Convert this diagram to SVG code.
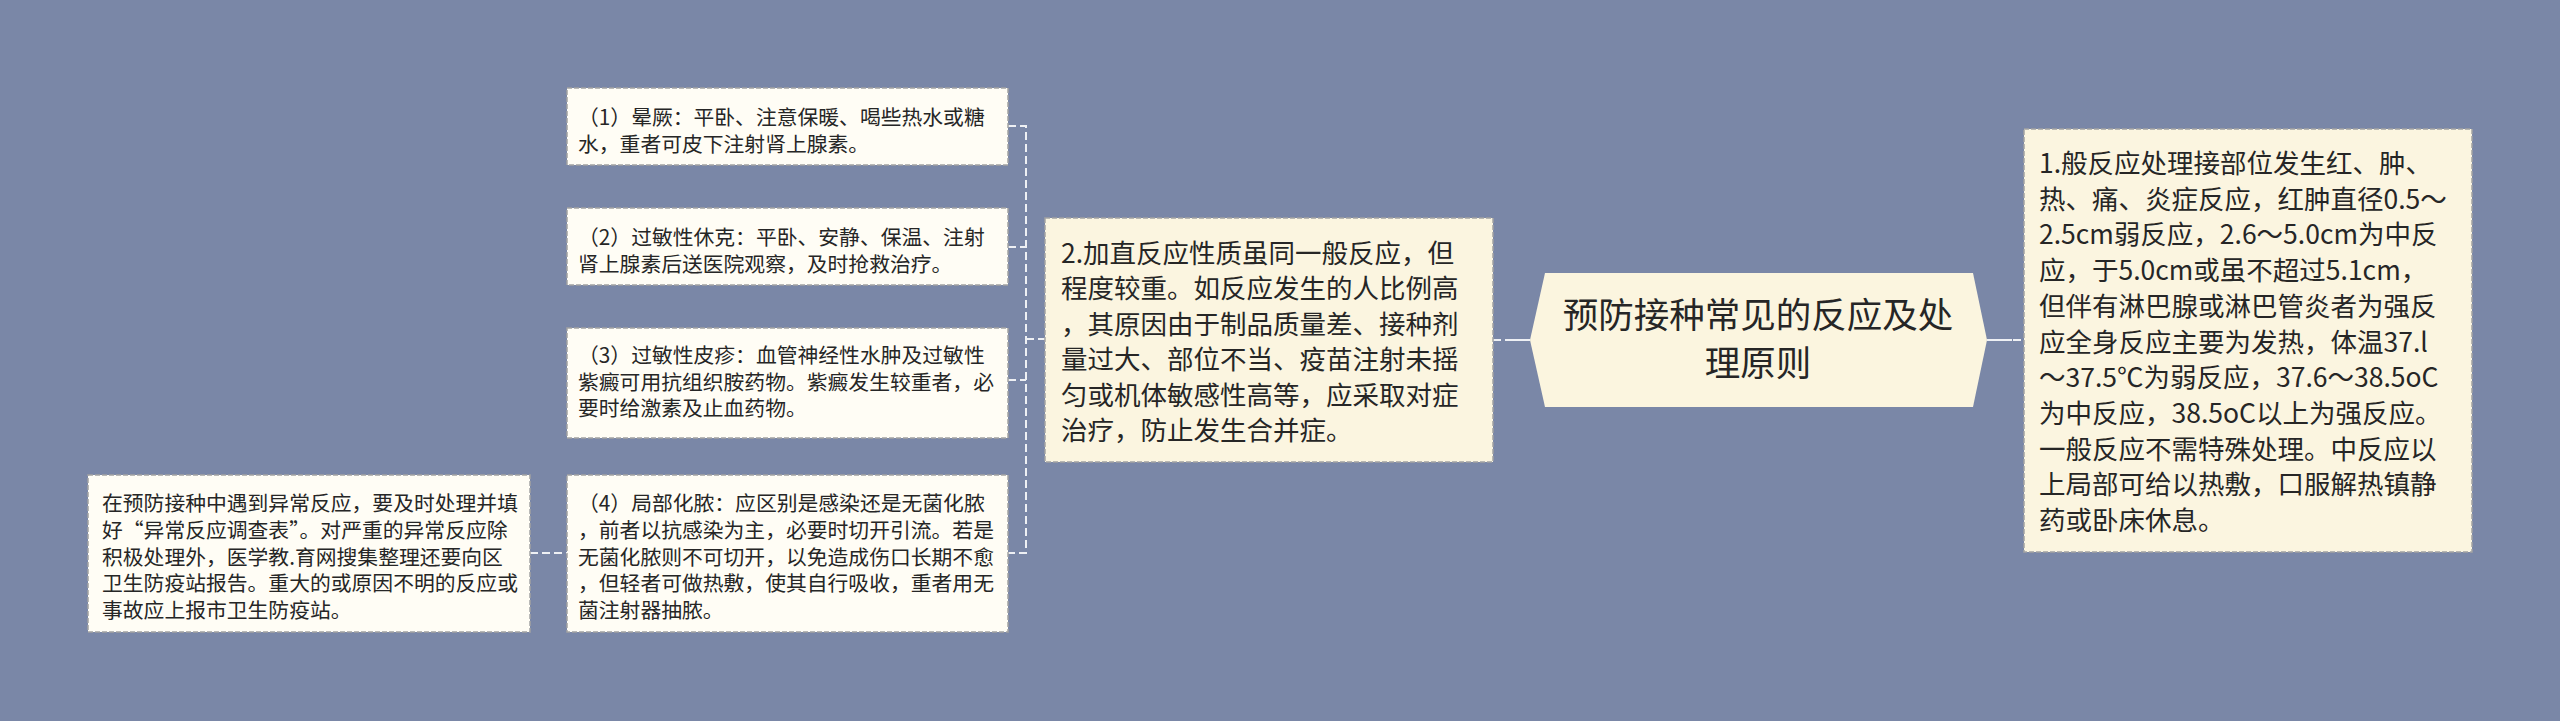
<svg xmlns="http://www.w3.org/2000/svg" width="2560" height="721" viewBox="0 0 2560 721">
<style>
.bg{fill:#7a87a7}
.box{fill:#fffdf5;stroke:#a3a3a3;stroke-width:1.5;stroke-dasharray:5 2}
.big{fill:#fbf5e0;stroke:#a3a3a3;stroke-width:1.5;stroke-dasharray:5 2}
.hex{fill:#fbf5df}
.t{font-family:"Noto Sans CJK SC","Microsoft YaHei",sans-serif;fill:#262626}
.s{font-size:20.8px}
.m{font-size:26.5px}
.l{font-size:35.5px}
.c{fill:none;stroke:#eef0f4;stroke-width:2}
.d{stroke-dasharray:8 4}
</style>
<rect class="bg" x="0" y="0" width="2560" height="721"/>
<g id="connectors">
<path class="c d" d="M1008 126 H1026 V553 H1008"/>
<path class="c d" d="M1008 247 H1026"/>
<path class="c d" d="M1008 380 H1026"/>
<path class="c d" d="M1026 339 H1045"/>
<path class="c d" d="M530 553 H567"/>
<path class="c d" d="M1493 340 H1504"/>
<path class="c" d="M1505 340 H1530"/>
<path class="c" d="M1987 340 H2012"/>
<path class="c d" d="M2013 340 H2024"/>
</g>
<g id="root">
<polygon class="hex" points="1530,340 1545,273 1973,273 1987,340 1973,407 1545,407"/>
<text class="t l" text-anchor="middle"><tspan x="1758" y="328">预防接种常见的反应及处</tspan><tspan x="1758" y="376">理原则</tspan></text>
</g>
<g id="node1">
<rect class="big" x="2024" y="129" width="448" height="423"/>
<text class="t m">
<tspan x="2039" y="173">1.般反应处理接部位发生红、肿、</tspan>
<tspan x="2039" y="208.7">热、痛、炎症反应，红肿直径0.5～</tspan>
<tspan x="2039" y="244.4">2.5cm弱反应，2.6～5.0cm为中反</tspan>
<tspan x="2039" y="280.1">应，于5.0cm或虽不超过5.1cm，</tspan>
<tspan x="2039" y="315.8">但伴有淋巴腺或淋巴管炎者为强反</tspan>
<tspan x="2039" y="351.5">应全身反应主要为发热，体温37.l</tspan>
<tspan x="2039" y="387.2">～37.5℃为弱反应，37.6～38.5oC</tspan>
<tspan x="2039" y="422.9">为中反应，38.5oC以上为强反应。</tspan>
<tspan x="2039" y="458.6">一般反应不需特殊处理。中反应以</tspan>
<tspan x="2039" y="494.3">上局部可给以热敷，口服解热镇静</tspan>
<tspan x="2039" y="530">药或卧床休息。</tspan>
</text>
</g>
<g id="node2">
<rect class="big" x="1045" y="218" width="448" height="244"/>
<text class="t m">
<tspan x="1061" y="263">2.加直反应性质虽同一般反应，但</tspan>
<tspan x="1061" y="298.4">程度较重。如反应发生的人比例高</tspan>
<tspan x="1061" y="333.8">，其原因由于制品质量差、接种剂</tspan>
<tspan x="1061" y="369.2">量过大、部位不当、疫苗注射未摇</tspan>
<tspan x="1061" y="404.6">匀或机体敏感性高等，应采取对症</tspan>
<tspan x="1061" y="440">治疗，防止发生合并症。</tspan>
</text>
</g>
<g id="node2-1">
<rect class="box" x="567" y="88" width="441" height="77"/>
<text class="t s"><tspan x="578" y="125">（1）晕厥：平卧、注意保暖、喝些热水或糖</tspan><tspan x="578" y="152">水，重者可皮下注射肾上腺素。</tspan></text>
</g>
<g id="node2-2">
<rect class="box" x="567" y="208" width="441" height="77"/>
<text class="t s"><tspan x="578" y="245">（2）过敏性休克：平卧、安静、保温、注射</tspan><tspan x="578" y="272">肾上腺素后送医院观察，及时抢救治疗。</tspan></text>
</g>
<g id="node2-3">
<rect class="box" x="567" y="328" width="441" height="110"/>
<text class="t s"><tspan x="578" y="363">（3）过敏性皮疹：血管神经性水肿及过敏性</tspan><tspan x="578" y="390">紫癜可用抗组织胺药物。紫癜发生较重者，必</tspan><tspan x="578" y="416">要时给激素及止血药物。</tspan></text>
</g>
<g id="node2-4">
<rect class="box" x="567" y="475" width="441" height="157"/>
<text class="t s"><tspan x="578" y="511">（4）局部化脓：应区别是感染还是无菌化脓</tspan><tspan x="578" y="538">，前者以抗感染为主，必要时切开引流。若是</tspan><tspan x="578" y="565">无菌化脓则不可切开，以免造成伤口长期不愈</tspan><tspan x="578" y="591">，但轻者可做热敷，使其自行吸收，重者用无</tspan><tspan x="578" y="618">菌注射器抽脓。</tspan></text>
</g>
<g id="node2-4-1">
<rect class="box" x="88" y="475" width="442" height="157"/>
<text class="t s"><tspan x="102" y="511">在预防接种中遇到异常反应，要及时处理并填</tspan><tspan x="102" y="538">好“异常反应调查表”。对严重的异常反应除</tspan><tspan x="102" y="565">积极处理外，医学教.育网搜集整理还要向区</tspan><tspan x="102" y="591">卫生防疫站报告。重大的或原因不明的反应或</tspan><tspan x="102" y="618">事故应上报市卫生防疫站。</tspan></text>
</g>
</svg>
